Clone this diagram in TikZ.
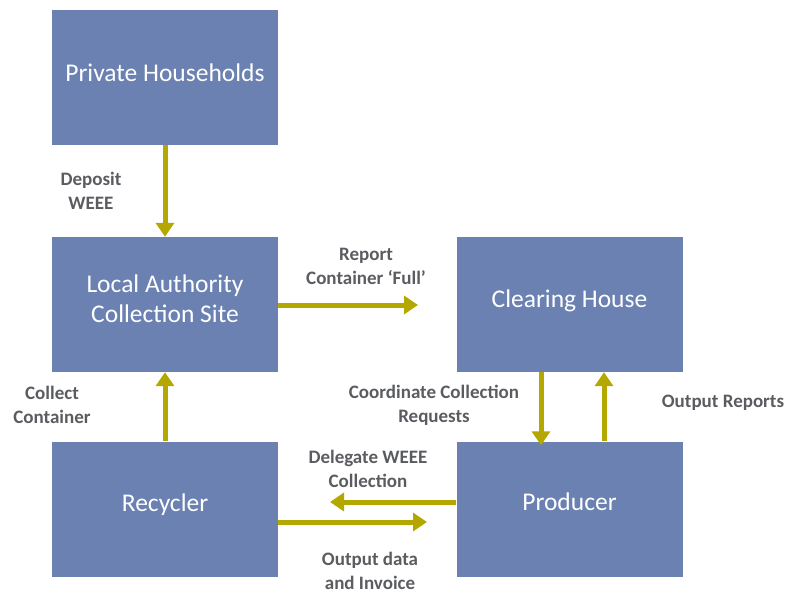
\documentclass[tikz,border=0pt]{standalone}
\usepackage{fontspec}
\setmainfont{Carlito}
\usetikzlibrary{arrows.meta}
\definecolor{boxblue}{RGB}{106,129,178}
\definecolor{flowolive}{RGB}{180,168,0}
\definecolor{labelgray}{RGB}{90,92,96}
\tikzset{
  entity/.style={fill=boxblue, draw=none, minimum width=226pt, minimum height=135pt,
    inner sep=0pt},
  entitytext/.style={text=white, font=\fontsize{25.5}{30}\selectfont, align=center,
    inner sep=0pt},
  flow/.style={draw=flowolive, line width=5pt,
    -{Triangle[width=18pt,length=14pt]}},
  flowlabel/.style={text=labelgray, font=\bfseries\fontsize{19}{24}\selectfont,
    align=center, inner sep=0pt}
}
\begin{document}
\begin{tikzpicture}[x=1pt,y=-1pt]
\useasboundingbox (0,0) rectangle (790,597);
% boxes
\node[entity] (ph) at (165,77.5) {};
\node[entity] (la) at (165,304.5) {};
\node[entity] (rc) at (165,509) {};
\node[entity] (ch) at (569.5,304.5) {};
\node[entity] (pr) at (569.5,509) {};
% box captions, set slightly above centre
\node[entitytext] (tph) at (165,73) {Private Households};
\node[entitytext] (tla) at (165,299) {Local Authority\\Collection Site};
\node[entitytext] (trc) at (165,505) {Recycler};
\node[entitytext] (tch) at (569.5,301) {Clearing House};
\node[entitytext] (tpr) at (569.5,502) {Producer};
% free ends of the short arrows
\coordinate (repEnd) at (418,305);
\coordinate (delEnd) at (330,502);
\coordinate (outEnd) at (427,522);
% connectors
\draw[flow] (ph.south) -- (la.north);
\draw[flow] (rc.north) -- (la.south);
\draw[flow] (la.east |- 0,305) -- (repEnd);
\draw[flow] (ch.south -| 541,0) -- ([yshift=-4pt]pr.north -| 541,0);
\draw[flow] (pr.north -| 604,0) -- (ch.south -| 604,0);
\draw[flow] (pr.west |- 0,502) -- (delEnd);
\draw[flow] (rc.east |- 0,522) -- (outEnd);
% labels
\node[flowlabel] (l1) at (91,191) {Deposit\\WEEE};
\node[flowlabel] (l2) at (366,266) {Report\\Container `Full'};
\node[flowlabel] (l3) at (52,405) {Collect\\Container};
\node[flowlabel] (l4) at (434,405) {Coordinate Collection\\Requests};
\node[flowlabel] (l5) at (723,403) {Output Reports};
\node[flowlabel] (l6) at (368,469) {Delegate WEEE\\Collection};
\node[flowlabel] (l7) at (370,571) {Output data\\and Invoice};
\end{tikzpicture}
\end{document}
